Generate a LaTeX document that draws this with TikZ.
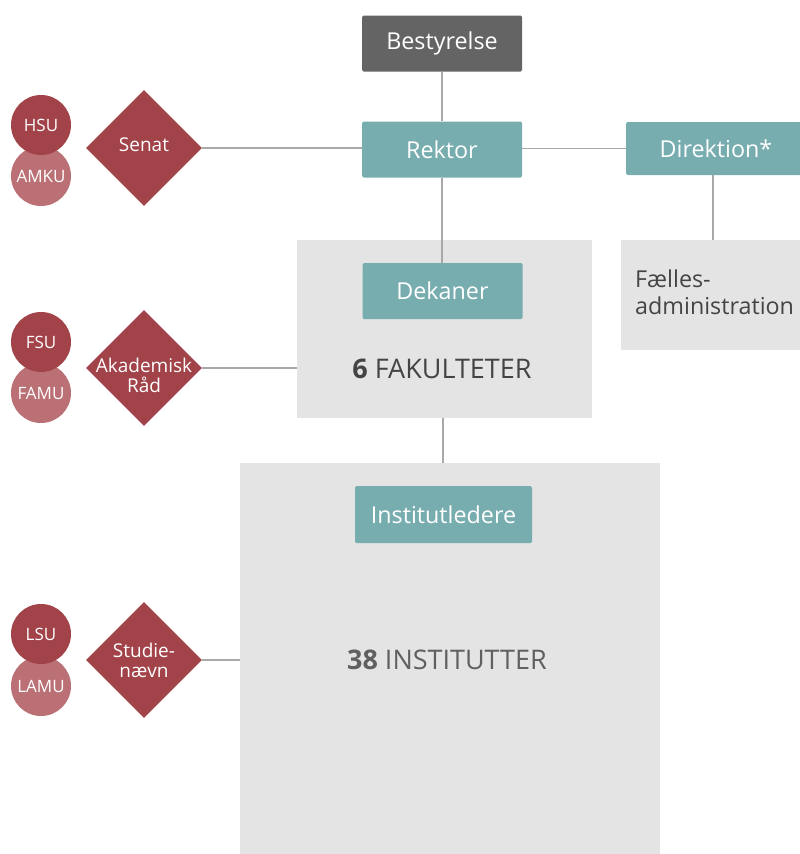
\documentclass[tikz,border=0pt]{standalone}
\usepackage{fontspec}
\setmainfont{Open Sans}
\usetikzlibrary{shapes.geometric}
\definecolor{teal1}{HTML}{78ADB0}
\definecolor{dgray}{HTML}{646464}
\definecolor{lgray}{HTML}{E4E4E4}
\definecolor{lline}{HTML}{A8A8A8}
\definecolor{dred}{HTML}{A2434A}
\definecolor{lred}{HTML}{BA7075}
\definecolor{txt}{HTML}{444444}
\newcommand{\zw}[1]{\makebox[0pt]{#1}}
\tikzset{
  x=1pt,y=-1pt,
  conn/.style={draw=lline,line width=1.6pt},
  tealbox/.style={fill=teal1,text=white,rounded corners=1.5pt,minimum width=160pt,minimum height=56pt,inner sep=0pt,font=\fontsize{23.3}{27}\selectfont},
  darkbox/.style={tealbox,fill=dgray},
  graybox/.style={fill=lgray,inner sep=0pt},
  council/.style={diamond,fill=dred,text=white,minimum width=116pt,minimum height=116pt,inner sep=0pt,align=center,font=\fontsize{19}{20}\selectfont},
  topcirc/.style={circle,fill=dred,text=white,minimum size=60pt,inner sep=0pt,font=\fontsize{17}{19}\selectfont},
  botcirc/.style={topcirc,fill=lred},
  bigtext/.style={text=txt,font=\fontsize{27}{31}\selectfont},
}
\begin{document}
\begin{tikzpicture}
\useasboundingbox (0,0) rectangle (800,854);
% large gray boxes
\node[graybox,minimum width=295pt,minimum height=178pt] (fak) at (444.5,329) {};
\node[graybox,minimum width=420pt,minimum height=391pt] (inst) at (450,658.5) {};
\node[graybox,minimum width=189pt,minimum height=110pt] (fadm) at (715.5,295) {};
% boxes
\node[darkbox] (best) at (442,43.5) {Bestyrelse};
\node[tealbox] (rek) at (442,149.5) {Rektor};
\node[tealbox,minimum width=180pt,minimum height=53pt] (dir) at (716,148.5) {Direktion*};
\node[tealbox] (dek) at (442.5,291) {Dekaner};
\node[tealbox,minimum width=177pt,minimum height=57pt] (instl) at (443.5,514.5) {Institutledere};
\node[council] (senat) at (144,148) {\zw{Senat}\rule[-6pt]{0pt}{1pt}};
\node[council] (akad) at (144,368) {\zw{Akademisk}\rule{0pt}{30pt}\\\zw{Råd}};
\node[council] (stud) at (144,660) {\zw{Studie-}\\\zw{nævn}};
% connectors
\draw[conn] (best.south) -- (rek.north);
\draw[conn] (rek.south) -- (rek.south |- dek.north);
\draw[conn] (senat.east) -- (senat.east -| rek.west);
\draw[conn] (rek.east |- dir.west) -- (dir.west);
\draw[conn] (dir.south -| 713,0) -- (fadm.north -| 713,0);
\draw[conn] (akad.east) -- (akad.east -| fak.west);
\draw[conn] (stud.east) -- (stud.east -| inst.west);
\draw[conn] (fak.south -| 443,0) -- (inst.north -| 443,0);
% texts
\node[bigtext] (faktxt) at (442,369) {\textbf{6} FAKULTETER};
\node[bigtext,text=txt!85] (insttxt) at (447,660) {\textbf{38} INSTITUTTER};
\node[anchor=west,align=left,text=txt,inner sep=0pt,font=\fontsize{23.3}{27}\selectfont] (fadmtxt) at (635,292) {Fælles-\\administration};
% circles
\node[botcirc] (amku) at (41,176) {AMKU};
\node[topcirc] (hsu) at (41,125) {HSU};
\node[botcirc] (famu) at (41,393) {FAMU};
\node[topcirc] (fsu) at (41,342) {FSU};
\node[botcirc] (lamu) at (41,686) {LAMU};
\node[topcirc] (lsu) at (41,634) {LSU};
\end{tikzpicture}
\end{document}
